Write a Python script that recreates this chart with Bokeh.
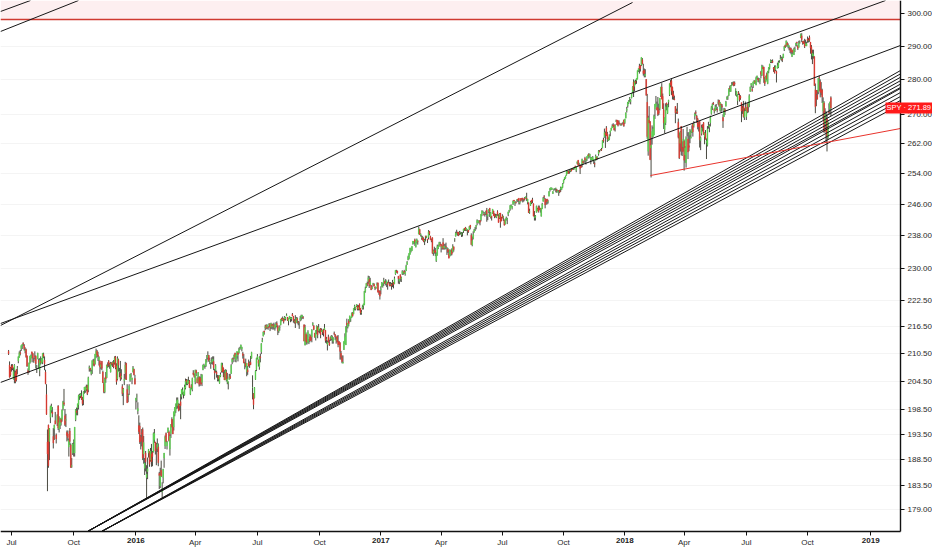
from bokeh.plotting import figure
from bokeh.models import Range1d, FixedTicker, NumeralTickFormatter, Label, BoxAnnotation, ColumnDataSource
from bokeh.embed import file_html
from bokeh.resources import INLINE

# SPY daily bars (open, high, low, close), sessions Jun 26 2015 .. Nov 2 2018
bars_2015 = [
    (211.0, 211.3, 210.2, 210.5), (208.0, 208.8, 205.3, 205.4), (207.4, 207.6, 205.5, 205.85),
    # Jul
    (207.7, 208.2, 206.6, 207.5), (207.9, 208.2, 206.9, 207.3), (205.0, 207.5, 204.9, 206.6), (206.9, 208.2, 204.1, 208.0),
    (206.4, 206.8, 204.1, 204.5), (207.0, 207.1, 204.5, 204.9), (207.3, 207.8, 206.0, 207.3), (208.9, 209.9, 208.4, 209.8),
    (209.7, 211.0, 209.6, 210.7), (210.7, 211.3, 210.1, 210.5), (211.6, 212.3, 211.1, 212.3), (212.3, 212.6, 211.5, 212.5),
    (212.8, 213.0, 212.2, 212.6), (212.3, 212.6, 211.2, 211.6), (211.1, 211.9, 210.6, 211.3), (211.4, 211.6, 209.6, 209.8),
    (210.0, 210.1, 207.6, 207.8), (206.8, 207.3, 205.9, 206.4), (206.9, 208.5, 206.3, 208.5), (208.6, 210.0, 208.3, 210.0),
    (209.5, 210.3, 208.6, 210.1), (210.9, 210.9, 209.5, 210.5),
    # Aug
    (210.5, 210.6, 208.6, 209.5), (209.1, 209.6, 208.5, 209.0), (210.0, 211.0, 209.2, 209.9), (209.9, 210.1, 207.3, 208.3),
    (207.6, 208.0, 206.3, 207.6), (209.3, 210.7, 209.3, 210.6), (209.0, 209.4, 207.2, 208.6), (206.9, 209.5, 205.6, 209.0),
    (208.8, 209.9, 208.1, 208.6), (208.4, 209.5, 208.4, 209.4), (208.7, 210.6, 208.2, 210.6), (210.3, 210.7, 209.5, 209.9),
    (209.1, 209.9, 206.9, 208.3), (206.5, 207.0, 203.9, 204.0), (201.7, 203.9, 197.5, 197.6), (192.0, 194.5, 182.4, 189.6),
    (195.4, 195.5, 186.9, 187.3), (192.1, 194.8, 188.4, 194.7), (197.0, 199.4, 195.8, 199.2), (198.5, 199.8, 197.9, 199.3),
    (198.1, 199.1, 197.0, 197.7),
    # Sep
    (193.1, 194.8, 190.7, 191.8), (194.6, 195.5, 192.4, 195.4), (196.3, 198.1, 195.6, 195.6), (193.4, 193.7, 191.7, 192.6),
    (195.9, 197.6, 195.2, 197.3), (199.3, 199.5, 194.4, 194.8), (194.6, 197.2, 193.9, 195.9), (195.4, 196.8, 194.6, 196.8),
    (196.6, 196.9, 195.3, 196.0), (196.6, 198.6, 196.1, 198.5), (198.8, 200.4, 198.4, 200.2), (200.0, 202.9, 199.3, 199.7),
    (197.3, 198.7, 195.2, 195.5), (196.4, 197.7, 195.0, 196.5), (193.9, 194.3, 192.1, 193.3), (193.6, 194.3, 192.3, 192.9),
    (191.0, 192.7, 189.1, 192.3), (194.2, 194.8, 191.4, 192.1), (191.4, 191.7, 186.9, 187.0), (187.2, 188.8, 186.9, 187.3),
    (189.8, 191.8, 189.4, 191.6),
    # Oct
    (192.1, 192.5, 189.1, 192.1), (189.8, 195.0, 189.1, 195.0), (196.5, 198.7, 196.2, 198.6), (198.3, 199.0, 197.4, 198.0),
    (198.9, 199.8, 197.4, 199.8), (199.6, 201.7, 198.6, 201.5), (201.4, 201.9, 200.6, 201.6), (201.4, 202.0, 201.0, 201.9),
    (201.4, 202.6, 200.6, 200.8), (200.8, 201.2, 199.4, 199.8), (200.7, 202.4, 199.5, 202.3), (202.7, 203.3, 201.9, 203.3),
    (202.5, 203.4, 202.1, 203.3), (202.9, 203.8, 202.4, 203.1), (203.6, 203.8, 201.6, 201.9), (202.8, 205.5, 202.2, 205.3),
    (207.3, 207.9, 206.6, 207.5), (207.3, 207.4, 206.6, 207.0), (206.2, 207.0, 205.8, 206.6), (206.9, 209.0, 206.1, 209.0),
    (208.4, 209.3, 207.9, 208.8), (209.0, 209.4, 207.7, 207.9),
    # Nov
    (208.3, 210.4, 208.1, 210.4), (210.0, 211.6, 209.5, 211.0), (211.0, 211.3, 209.8, 210.2), (210.2, 210.9, 208.9, 209.9),
    (209.1, 209.9, 207.9, 209.7), (208.9, 209.0, 206.1, 207.6), (207.6, 208.4, 207.1, 208.1), (208.8, 208.9, 206.9, 207.3),
    (206.5, 206.8, 204.2, 204.2), (203.9, 204.3, 202.0, 202.3), (202.3, 205.3, 202.0, 205.1), (205.5, 206.5, 204.2, 205.0),
    (205.3, 208.1, 205.2, 208.0), (208.0, 208.6, 207.4, 207.8), (208.8, 209.1, 207.6, 208.3), (208.3, 208.5, 207.2, 208.0),
    (206.5, 208.7, 206.4, 208.3), (208.5, 208.6, 207.9, 208.2), (208.4, 208.8, 207.6, 208.6), (208.6, 209.1, 207.3, 207.6),
    # Dec
    (208.6, 209.9, 208.1, 209.6), (209.8, 210.0, 207.1, 207.4), (207.8, 208.4, 203.8, 204.4), (205.0, 209.9, 204.7, 209.4),
    (209.2, 209.4, 206.6, 208.0), (206.5, 207.4, 205.4, 206.6), (206.2, 208.9, 204.6, 205.1), (205.4, 207.1, 204.9, 205.6),
    (203.4, 203.9, 201.4, 201.9), (202.1, 203.1, 199.5, 202.9), (204.7, 206.1, 203.7, 205.0), (206.4, 208.7, 204.9, 208.0),
    (208.4, 208.5, 204.8, 204.9), (202.8, 203.9, 200.0, 200.0), (201.4, 201.9, 200.1, 201.5), (202.7, 203.9, 201.6, 203.5),
    (204.7, 206.1, 204.4, 206.0), (205.7, 206.3, 205.3, 205.7), (204.9, 205.3, 203.9, 205.2), (206.5, 207.8, 206.4, 207.4),
    (207.1, 207.2, 205.8, 205.9), (205.1, 205.9, 203.9, 203.9),
]

bars_2016 = [
    # Jan
    (200.5, 201.0, 198.6, 201.0), (201.4, 201.9, 200.1, 201.4), (198.3, 200.1, 197.6, 198.8), (195.3, 197.4, 193.6, 194.1),
    (195.2, 195.9, 191.6, 192.0), (193.0, 193.4, 190.5, 192.1), (193.8, 194.6, 191.1, 193.7), (194.5, 194.9, 188.4, 188.8),
    (189.6, 193.2, 187.7, 191.9), (186.8, 188.8, 185.5, 187.8), (189.8, 190.2, 186.2, 188.1), (185.0, 187.4, 181.0, 185.7),
    (186.2, 188.9, 184.7, 186.7), (189.8, 190.6, 188.9, 190.5), (190.1, 190.1, 187.1, 187.6), (188.4, 190.8, 188.1, 190.2),
    (189.6, 191.6, 187.1, 188.1), (189.9, 190.2, 187.2, 189.1), (190.0, 193.9, 189.9, 193.7),
    # Feb
    (192.5, 194.6, 191.8, 193.7), (192.0, 192.0, 189.5, 190.2), (191.4, 191.8, 187.4, 191.3), (190.7, 192.7, 190.0, 191.6),
    (191.0, 191.7, 187.2, 187.9), (185.8, 186.1, 182.8, 185.4), (183.4, 186.9, 183.0, 185.4), (186.4, 188.3, 185.1, 185.3),
    (182.3, 184.1, 181.1, 182.9), (185.0, 186.7, 183.9, 186.6), (188.8, 189.8, 186.9, 189.8), (191.2, 193.3, 190.6, 193.0),
    (193.7, 193.9, 191.9, 192.1), (191.2, 192.2, 190.5, 192.0), (193.9, 194.9, 193.8, 194.8), (194.0, 194.3, 192.1, 192.3),
    (190.6, 193.5, 189.3, 193.2), (193.7, 195.6, 192.8, 195.5), (196.6, 197.0, 194.9, 195.1), (195.1, 196.6, 193.6, 193.6),
    # Mar
    (195.0, 198.2, 194.3, 198.1), (197.6, 199.1, 197.2, 199.0), (198.4, 199.8, 197.9, 199.8), (199.9, 201.1, 198.7, 200.4),
    (199.4, 201.1, 198.8, 200.6), (199.6, 199.9, 198.2, 198.4), (199.4, 199.8, 198.4, 199.4), (200.2, 201.8, 196.6, 199.4),
    (201.3, 202.8, 200.7, 202.8), (202.2, 203.2, 201.7, 202.6), (201.8, 202.3, 200.9, 202.2), (201.6, 203.8, 201.5, 203.3),
    (203.1, 205.1, 202.8, 204.6), (204.8, 205.0, 203.7, 204.4), (204.0, 204.9, 203.7, 204.7), (204.1, 205.5, 204.0, 204.6),
    (204.6, 204.8, 203.1, 203.2), (201.8, 203.2, 201.6, 203.1), (203.6, 203.9, 202.8, 203.2), (202.8, 205.3, 202.4, 205.1),
    (206.3, 206.9, 205.8, 206.0), (205.9, 206.2, 205.3, 205.5),
    # Apr
    (204.4, 207.0, 203.9, 206.9), (206.8, 207.0, 205.6, 206.3), (205.1, 205.4, 204.1, 204.2), (204.3, 206.5, 204.3, 206.4),
    (205.4, 205.6, 203.4, 203.9), (205.0, 205.5, 203.5, 204.5), (205.2, 206.1, 203.9, 203.9), (204.3, 206.0, 203.5, 205.9),
    (207.0, 208.1, 206.9, 208.0), (207.9, 208.3, 207.5, 208.0), (207.8, 208.0, 207.2, 207.8), (207.8, 209.3, 207.6, 209.2),
    (209.9, 210.2, 208.6, 209.9), (209.6, 211.0, 209.2, 210.1), (210.1, 210.2, 208.7, 209.0), (208.9, 209.6, 208.2, 209.0),
    (208.4, 208.6, 207.2, 208.6), (208.8, 209.7, 208.2, 208.9), (208.8, 209.9, 208.1, 209.3), (208.8, 209.9, 206.9, 207.4),
    (206.7, 207.2, 204.9, 206.3),
    # May
    (206.9, 208.2, 206.4, 207.9), (206.5, 206.8, 205.3, 206.1), (205.0, 205.9, 204.5, 205.0), (205.6, 205.8, 204.5, 205.0),
    (204.1, 205.8, 204.0, 205.7), (205.6, 206.4, 205.4, 205.9), (206.7, 208.5, 206.4, 208.4), (207.9, 208.5, 206.4, 206.5),
    (207.3, 207.5, 205.4, 206.6), (206.2, 206.9, 204.8, 204.8), (204.9, 207.1, 204.9, 206.8), (206.5, 207.0, 204.5, 204.9),
    (204.4, 206.3, 203.9, 205.0), (204.1, 204.5, 202.8, 204.3), (204.9, 206.1, 204.9, 205.5), (205.6, 206.1, 205.0, 205.2),
    (206.2, 208.2, 206.1, 207.9), (208.7, 209.5, 208.2, 209.3), (209.4, 209.7, 208.6, 209.3), (209.6, 210.3, 209.4, 210.2),
    (210.6, 210.7, 208.7, 209.8),
    # Jun
    (209.1, 210.5, 208.6, 210.3), (210.0, 211.0, 209.4, 211.0), (210.7, 210.9, 208.8, 210.3), (210.7, 211.8, 210.5, 211.4),
    (211.5, 212.0, 211.3, 211.6), (211.9, 212.5, 211.6, 212.4), (211.5, 212.0, 211.0, 211.9), (210.5, 210.9, 209.4, 210.1),
    (209.4, 210.4, 208.4, 208.5), (208.0, 208.7, 207.1, 208.1), (208.4, 209.4, 207.5, 207.8), (206.6, 208.4, 205.6, 208.4),
    (207.0, 207.8, 205.9, 206.5), (208.5, 209.2, 207.7, 207.8), (208.4, 208.8, 207.4, 208.4), (208.6, 210.0, 208.0, 208.1),
    (209.5, 210.9, 209.4, 210.8), (203.2, 205.8, 200.7, 203.2), (201.9, 202.0, 198.65, 199.6), (201.0, 203.3, 200.9, 203.2),
    (204.9, 206.9, 204.8, 206.7), (207.0, 209.6, 206.7, 209.5),
    # Jul
    (209.5, 210.4, 209.2, 209.9), (209.0, 209.2, 207.7, 208.4), (207.6, 209.9, 207.0, 209.7), (209.8, 210.5, 208.6, 209.6),
    (210.9, 212.8, 210.4, 212.7), (213.2, 214.0, 213.0, 213.4), (214.4, 215.4, 214.3, 215.3), (215.5, 215.6, 214.7, 215.3),
    (216.2, 216.9, 215.7, 216.5), (216.8, 217.0, 215.9, 216.2), (216.3, 217.0, 216.0, 216.8), (216.3, 216.6, 215.8, 216.2),
    (216.8, 217.3, 216.4, 217.1), (217.1, 217.2, 215.5, 216.3), (216.4, 217.4, 215.9, 217.2), (217.0, 217.1, 216.0, 216.6),
    (216.5, 217.2, 215.8, 216.7), (216.8, 217.4, 215.9, 216.5), (216.2, 217.0, 215.6, 216.8), (216.7, 217.5, 216.1, 217.1),
    # Aug
    (217.2, 217.7, 216.4, 216.9), (216.7, 216.8, 214.6, 215.6), (215.5, 216.3, 215.1, 216.2), (216.3, 216.8, 215.6, 216.4),
    (216.9, 218.2, 216.8, 218.2), (218.4, 218.5, 217.7, 218.1), (218.1, 218.8, 217.8, 218.2), (218.3, 218.4, 217.2, 217.6),
    (218.3, 218.9, 217.9, 218.6), (218.3, 218.7, 217.9, 218.5), (218.9, 219.5, 218.9, 219.1), (218.6, 218.7, 217.8, 217.9),
    (217.8, 218.5, 216.8, 218.4), (218.3, 218.9, 218.2, 218.9), (218.3, 218.7, 217.5, 218.5), (218.3, 218.7, 217.7, 218.5),
    (219.3, 219.6, 218.9, 218.9), (218.8, 218.9, 217.4, 217.9), (217.7, 218.2, 217.2, 217.7), (217.9, 219.1, 216.2, 217.3),
    (217.4, 218.7, 217.4, 218.4), (218.3, 218.6, 217.2, 218.0), (217.6, 217.8, 216.8, 217.4),
    # Sep
    (217.4, 217.7, 216.0, 217.4), (218.0, 218.9, 217.7, 218.4), (218.6, 219.2, 217.9, 219.0), (218.8, 219.2, 218.3, 219.0),
    (218.6, 218.9, 218.2, 218.5), (216.9, 217.0, 213.2, 213.3), (212.4, 216.9, 212.3, 216.3), (214.8, 215.2, 212.5, 213.2),
    (213.3, 214.7, 212.5, 213.0), (212.9, 215.7, 212.8, 215.3), (213.4, 213.7, 212.6, 213.4), (214.2, 214.9, 213.0, 213.4),
    (214.4, 214.6, 213.4, 213.4), (214.2, 215.9, 213.0, 215.8), (217.0, 217.5, 216.7, 217.2), (216.7, 216.8, 215.7, 215.9),
    (215.0, 215.1, 214.0, 214.2), (214.1, 215.7, 213.4, 215.6), (215.8, 216.8, 214.8, 216.6), (216.4, 216.6, 213.9, 214.7),
    (215.6, 217.1, 215.2, 216.3),
    # Oct
    (215.8, 216.0, 215.0, 215.8), (216.0, 216.2, 213.9, 214.7), (215.4, 216.1, 215.3, 215.6), (215.4, 215.8, 214.6, 215.7),
    (215.8, 216.0, 214.3, 215.0), (215.8, 217.1, 215.7, 216.2), (215.7, 215.7, 212.9, 213.4), (213.6, 214.2, 212.7, 213.7),
    (212.5, 213.4, 211.2, 213.0), (214.2, 214.7, 212.9, 213.1), (212.9, 213.6, 212.2, 212.4), (214.0, 214.3, 213.3, 213.7),
    (213.8, 214.6, 213.4, 214.3), (214.0, 214.5, 212.7, 214.0), (213.2, 214.1, 212.7, 214.0), (215.0, 215.4, 214.6, 214.9),
    (214.7, 214.8, 213.5, 214.2), (213.4, 214.2, 212.7, 213.7), (214.3, 214.5, 213.0, 213.2), (213.2, 214.6, 211.9, 212.5),
    (213.1, 213.3, 212.4, 212.6),
    # Nov
    (212.9, 213.0, 209.2, 211.0), (210.6, 211.1, 209.2, 209.7), (209.6, 210.1, 208.4, 208.8), (208.4, 210.1, 208.4, 208.6),
    (211.4, 213.2, 211.3, 213.2), (212.8, 215.0, 212.7, 214.2), (212.4, 216.6, 212.4, 216.4), (217.3, 218.3, 215.2, 216.9),
    (216.4, 217.3, 216.1, 217.3), (217.8, 218.2, 216.6, 217.2), (217.7, 219.0, 217.5, 218.9), (218.4, 218.6, 217.6, 218.6),
    (218.6, 219.7, 218.5, 219.6), (219.6, 219.8, 218.8, 218.9), (219.4, 220.7, 219.3, 220.7), (221.0, 221.5, 220.2, 221.2),
    (220.5, 221.0, 220.2, 221.0), (221.2, 221.6, 221.0, 221.5), (221.2, 221.5, 220.2, 220.5), (220.5, 221.4, 220.2, 220.9),
    (221.6, 221.8, 220.2, 220.4),
    # Dec
    (220.7, 220.7, 219.2, 219.6), (219.7, 220.3, 219.2, 219.7), (220.7, 221.4, 220.4, 221.0), (221.2, 221.7, 220.4, 221.7),
    (221.5, 224.7, 221.4, 224.6), (224.6, 225.7, 224.3, 225.2), (225.5, 226.5, 225.4, 226.5), (226.4, 226.9, 225.8, 226.3),
    (227.0, 228.3, 226.4, 227.8), (227.4, 228.2, 225.4, 225.9), (226.2, 227.8, 225.9, 226.8), (226.0, 226.0, 224.9, 225.0),
    (225.3, 226.0, 225.1, 225.5), (226.2, 226.6, 226.0, 226.4), (226.3, 226.5, 225.8, 225.8), (225.6, 225.7, 224.9, 225.4),
    (225.4, 225.7, 225.2, 225.7), (226.0, 226.7, 226.0, 226.3), (226.6, 226.6, 224.4, 224.4), (224.5, 224.9, 223.8, 224.4),
    (224.7, 224.8, 222.7, 223.5),
]

bars_2017 = [
    # Jan
    (225.0, 225.8, 223.9, 225.2), (225.6, 226.8, 225.6, 226.6), (226.3, 226.6, 225.5, 226.4), (226.5, 227.8, 225.9, 227.2),
    (226.9, 227.1, 226.4, 226.5), (226.5, 227.5, 226.0, 226.5), (226.4, 227.1, 225.6, 227.1), (226.5, 226.8, 225.0, 226.2),
    (226.7, 227.4, 226.5, 226.6), (226.3, 226.8, 225.8, 225.9), (226.2, 226.8, 225.8, 226.3), (226.3, 226.6, 225.0, 225.9),
    (226.7, 227.3, 225.6, 226.7), (226.7, 226.8, 225.3, 226.2), (226.4, 228.1, 226.3, 227.6), (228.7, 229.6, 228.5, 229.6),
    (229.4, 229.7, 229.0, 229.3), (229.4, 229.5, 228.8, 229.0), (228.2, 228.2, 226.4, 227.6), (227.0, 227.6, 226.3, 227.5),
    # Feb
    (228.5, 228.6, 226.9, 227.6), (227.6, 228.1, 226.8, 227.8), (228.8, 229.6, 228.5, 229.3), (228.9, 229.3, 228.5, 229.0),
    (229.4, 229.7, 228.7, 229.0), (228.7, 229.4, 228.3, 229.2), (229.5, 230.9, 229.4, 230.6), (231.0, 231.8, 230.9, 231.5),
    (232.1, 233.1, 232.0, 232.8), (232.6, 233.7, 232.2, 233.7), (233.4, 235.0, 233.4, 235.0), (234.9, 235.0, 233.9, 234.9),
    (234.3, 235.4, 234.3, 235.4), (236.0, 236.7, 235.8, 236.7), (236.4, 236.7, 236.0, 236.5), (237.0, 237.3, 235.5, 236.4),
    (235.3, 236.8, 235.1, 236.7), (236.4, 237.3, 236.1, 237.1), (236.6, 236.9, 235.8, 236.5),
    # Mar
    (238.4, 240.3, 238.4, 239.8), (239.6, 239.6, 238.2, 238.3), (238.2, 238.6, 237.8, 238.4), (237.5, 238.1, 237.0, 237.7),
    (237.5, 237.9, 236.8, 237.0), (237.3, 237.6, 236.4, 236.6), (236.7, 237.2, 235.7, 236.9), (237.9, 238.0, 236.6, 237.7),
    (237.6, 238.0, 237.4, 237.8), (237.2, 237.2, 236.2, 237.0), (237.6, 239.4, 237.1, 239.0), (239.1, 239.2, 238.1, 238.5),
    (237.8, 238.0, 237.0, 237.0), (236.9, 237.3, 236.4, 236.8), (237.5, 237.6, 233.6, 233.7), (233.8, 234.6, 233.1, 234.3),
    (234.2, 235.3, 233.6, 234.0), (234.4, 235.0, 233.0, 233.9), (231.9, 233.9, 231.6, 233.6), (233.3, 235.8, 233.1, 235.3),
    (235.0, 235.8, 234.7, 235.5), (235.5, 236.5, 235.3, 236.3), (235.9, 236.5, 235.7, 235.7),
    # Apr
    (235.8, 236.0, 233.9, 235.3), (235.0, 235.6, 234.6, 235.4), (236.3, 237.4, 234.6, 234.8), (235.0, 236.0, 234.6, 235.4),
    (235.2, 236.0, 234.6, 235.2), (235.4, 236.3, 234.7, 235.3), (234.9, 235.2, 233.3, 235.0), (234.7, 235.0, 233.8, 234.0),
    (233.6, 234.5, 232.5, 232.5), (233.1, 234.6, 232.9, 234.6), (233.7, 234.5, 233.1, 233.9), (234.5, 234.9, 233.2, 233.5),
    (234.1, 235.9, 233.8, 235.3), (235.3, 235.3, 234.1, 234.6), (237.2, 237.4, 236.5, 237.2), (237.9, 239.0, 237.8, 238.6),
    (238.5, 239.5, 238.3, 238.6), (238.8, 239.0, 238.0, 238.6), (238.9, 238.9, 237.9, 238.1),
    # May
    (238.7, 239.2, 238.2, 238.7), (238.8, 239.0, 238.3, 238.8), (238.3, 238.9, 237.7, 238.5), (238.8, 238.9, 237.8, 238.8),
    (239.2, 239.7, 238.7, 239.7), (239.8, 239.9, 239.2, 239.7), (240.0, 240.2, 239.2, 239.4), (239.4, 239.9, 239.2, 239.9),
    (239.4, 239.6, 238.1, 239.4), (239.4, 239.4, 238.7, 239.0), (239.5, 240.4, 239.4, 240.3), (240.6, 240.7, 239.6, 240.1),
    (238.1, 238.6, 235.8, 235.8), (235.7, 237.8, 235.4, 236.8), (237.3, 239.1, 237.1, 238.3), (238.9, 239.7, 238.8, 239.5),
    (240.0, 240.2, 239.2, 240.0), (240.3, 240.7, 239.6, 240.6), (241.2, 242.1, 240.6, 241.8), (241.5, 241.9, 241.2, 241.7),
    (241.3, 241.8, 241.0, 241.5), (241.8, 241.9, 240.6, 241.4),
    # Jun
    (242.0, 243.4, 241.6, 243.4), (243.4, 244.4, 242.9, 244.2), (244.0, 244.3, 243.8, 244.0), (243.3, 244.0, 243.1, 243.2),
    (243.6, 243.9, 242.8, 243.7), (243.8, 244.3, 243.2, 243.8), (244.4, 245.0, 241.5, 243.4), (242.9, 243.4, 241.9, 243.4),
    (244.0, 244.6, 243.6, 244.6), (244.9, 245.0, 242.7, 244.2), (242.7, 244.0, 242.3, 243.8), (242.8, 243.0, 241.8, 242.6),
    (243.6, 244.7, 243.5, 244.7), (244.2, 244.3, 243.0, 243.0), (243.4, 243.6, 242.4, 242.9), (242.9, 243.5, 242.6, 242.8),
    (242.6, 243.4, 242.4, 243.1), (244.0, 244.4, 243.0, 243.3), (243.0, 243.4, 241.3, 241.3), (242.5, 243.7, 242.2, 243.5),
    (243.7, 243.7, 240.0, 241.4), (242.3, 242.7, 241.6, 241.8),
    # Jul
    (242.9, 243.4, 242.4, 242.4), (242.6, 243.0, 241.7, 242.8), (241.9, 242.0, 240.6, 240.6), (240.9, 242.3, 240.8, 242.1),
    (242.1, 242.8, 241.8, 242.4), (242.1, 242.5, 240.9, 242.2), (243.4, 244.0, 242.9, 244.0), (244.2, 244.5, 243.8, 244.4),
    (244.7, 245.7, 244.3, 245.6), (245.5, 245.9, 245.3, 245.5), (245.0, 245.5, 244.6, 245.5), (245.9, 246.9, 245.8, 246.8),
    (247.0, 247.0, 246.2, 246.8), (246.3, 246.6, 245.5, 246.6), (246.5, 246.7, 246.1, 246.4), (247.0, 247.2, 246.6, 247.1),
    (247.3, 247.3, 246.5, 247.1), (247.5, 247.5, 245.9, 246.9), (246.3, 246.7, 245.9, 246.6), (247.4, 247.5, 246.6, 246.8),
    # Aug
    (247.5, 247.5, 246.9, 247.3), (247.5, 247.6, 246.4, 247.4), (247.3, 247.3, 246.6, 247.0), (247.5, 247.8, 246.9, 247.4),
    (247.5, 247.9, 247.4, 247.9), (247.5, 248.9, 246.8, 247.3), (246.5, 247.3, 245.9, 247.3), (246.3, 246.4, 243.7, 243.8),
    (243.9, 244.8, 243.5, 244.1), (245.6, 246.8, 245.5, 246.5), (247.0, 247.0, 246.0, 246.4), (247.1, 247.6, 246.2, 246.9),
    (246.1, 246.1, 242.9, 242.9), (242.6, 244.2, 241.8, 242.7), (242.6, 243.2, 241.8, 243.0), (243.9, 245.6, 243.8, 245.4),
    (244.3, 245.0, 244.2, 244.6), (245.3, 245.6, 243.8, 244.1), (244.9, 245.6, 244.4, 244.6), (244.9, 245.0, 243.8, 244.6),
    (242.9, 245.0, 242.8, 244.9), (244.8, 246.3, 244.7, 246.0), (246.7, 247.8, 246.6, 247.5),
    # Sep
    (247.9, 248.3, 247.3, 247.8), (247.3, 247.5, 244.9, 245.8), (246.8, 247.3, 245.8, 246.6), (247.3, 247.3, 245.9, 246.6),
    (246.5, 247.1, 246.1, 246.6), (248.0, 249.3, 248.0, 249.2), (249.7, 250.1, 249.2, 250.1), (249.9, 250.3, 249.6, 250.2),
    (249.7, 250.2, 249.6, 250.1), (248.7, 249.3, 248.6, 249.2), (249.6, 250.0, 249.4, 249.6), (250.0, 250.1, 249.6, 250.0),
    (250.1, 250.2, 249.0, 250.1), (249.7, 249.9, 248.9, 249.4), (249.1, 249.6, 249.0, 249.4), (248.9, 249.6, 248.1, 248.9),
    (249.5, 249.7, 248.8, 249.1), (249.9, 250.5, 249.1, 250.1), (249.7, 250.4, 249.6, 250.4), (250.3, 251.4, 250.1, 251.2),
    # Oct
    (251.5, 252.3, 251.3, 252.3), (252.5, 252.9, 252.2, 252.9), (252.7, 253.4, 252.6, 253.2), (253.5, 254.7, 253.4, 254.7),
    (254.1, 254.7, 253.9, 254.4), (254.6, 254.7, 253.9, 254.0), (254.6, 254.9, 253.9, 254.6), (254.6, 255.0, 254.3, 255.0),
    (254.9, 255.2, 254.5, 254.6), (255.1, 255.3, 254.9, 255.0), (255.2, 255.5, 254.9, 255.3), (255.2, 255.5, 255.0, 255.5),
    (255.9, 256.0, 255.5, 255.7), (254.8, 255.8, 254.3, 255.8), (256.7, 257.1, 256.4, 257.1), (257.5, 257.5, 256.0, 256.1),
    (256.6, 256.8, 256.1, 256.6), (256.2, 256.3, 253.8, 255.3), (256.0, 256.3, 255.5, 255.6), (256.5, 257.9, 255.6, 257.7),
    (257.2, 257.4, 256.3, 256.8), (257.2, 257.4, 256.8, 257.2),
    # Nov
    (258.0, 258.4, 256.8, 257.5), (257.4, 257.8, 256.3, 257.6), (257.8, 258.5, 257.3, 258.5), (258.3, 259.0, 258.2, 258.9),
    (259.0, 259.4, 257.9, 258.7), (258.5, 259.2, 258.2, 259.1), (257.7, 258.4, 256.4, 258.2), (257.7, 258.3, 257.4, 258.1),
    (257.3, 258.6, 257.3, 258.3), (257.4, 257.8, 256.5, 257.7), (256.6, 257.2, 255.6, 256.4), (257.5, 259.0, 257.4, 258.6),
    (258.2, 258.5, 257.5, 257.9), (258.1, 258.5, 257.7, 258.3), (259.2, 260.2, 258.7, 260.0), (260.0, 260.2, 259.6, 259.8),
    (260.3, 260.5, 260.1, 260.4), (260.4, 260.8, 260.0, 260.2), (260.8, 262.9, 260.7, 262.9), (263.0, 263.6, 262.2, 262.7),
    (263.8, 266.1, 263.6, 265.0),
    # Dec
    (264.8, 265.3, 260.8, 264.5), (266.3, 266.8, 264.1, 264.1), (264.6, 265.2, 262.4, 263.2), (262.8, 263.7, 262.7, 263.2),
    (263.2, 264.5, 262.9, 264.1), (265.1, 265.5, 264.0, 265.5), (265.6, 266.3, 265.6, 266.3), (266.3, 267.3, 266.3, 266.8),
    (267.1, 267.6, 266.5, 266.8), (267.1, 267.2, 265.6, 265.7), (266.3, 267.3, 265.3, 267.0), (268.1, 268.6, 268.0, 268.2),
    (268.5, 268.5, 267.1, 267.2), (268.3, 268.3, 266.7, 267.0), (267.7, 268.4, 267.3, 267.6), (267.6, 267.6, 267.0, 267.5),
    (267.1, 267.4, 266.9, 267.2), (267.4, 267.7, 267.0, 267.3), (267.9, 267.9, 267.4, 267.9), (268.5, 268.6, 266.6, 266.9),
]

bars_2018 = [
    # Jan
    (267.8, 268.8, 267.4, 268.8), (269.0, 270.6, 269.0, 270.5), (271.2, 272.2, 270.6, 271.6), (272.5, 273.6, 272.0, 273.4),
    (273.3, 274.1, 273.0, 273.9), (274.4, 275.0, 273.6, 274.5), (273.7, 274.4, 272.9, 274.1), (274.8, 276.1, 274.6, 276.1),
    (276.4, 278.1, 276.1, 277.9), (279.3, 280.1, 275.0, 277.0), (278.1, 279.7, 276.6, 279.6), (279.5, 280.0, 278.6, 279.1),
    (279.8, 280.4, 278.8, 280.4), (280.2, 282.7, 280.1, 282.7), (282.7, 283.3, 282.3, 283.3), (284.0, 284.7, 281.8, 283.2),
    (284.2, 284.3, 282.4, 283.3), (284.3, 286.6, 284.0, 286.6), (285.9, 286.4, 284.5, 284.7), (282.6, 284.7, 281.2, 281.8),
    (282.7, 283.3, 280.7, 281.9),
    # Feb
    (281.1, 283.1, 280.7, 281.6), (280.1, 280.2, 275.4, 275.5), (273.5, 275.9, 263.3, 263.9), (259.9, 269.7, 258.7, 269.1),
    (268.5, 272.4, 267.6, 267.7), (268.0, 268.2, 257.6, 257.6), (260.8, 263.6, 252.9, 261.5), (263.8, 267.0, 261.7, 265.3),
    (264.0, 266.6, 263.7, 266.0), (264.3, 270.0, 264.3, 269.6), (271.6, 273.0, 268.8, 273.0), (272.3, 275.3, 272.3, 273.1),
    (272.0, 273.7, 271.2, 271.4), (271.9, 275.0, 269.6, 270.1), (271.1, 273.1, 269.9, 270.4), (271.8, 274.7, 271.2, 274.7),
    (275.5, 277.9, 275.0, 277.9), (277.9, 279.0, 274.4, 274.4), (275.2, 276.0, 271.6, 271.7),
    # Mar
    (271.4, 273.2, 266.0, 267.7), (265.8, 269.2, 264.8, 269.1), (267.7, 273.2, 267.1, 272.2), (273.3, 273.4, 271.2, 272.9),
    (270.4, 273.0, 270.2, 272.8), (273.6, 274.2, 272.1, 274.1), (275.7, 278.9, 275.3, 278.9), (279.2, 279.9, 277.8, 278.5),
    (279.7, 280.4, 275.6, 276.7), (277.8, 278.0, 274.3, 275.3), (275.9, 276.8, 274.2, 275.0), (274.5, 275.4, 274.1, 274.2),
    (272.3, 272.4, 267.6, 270.5), (270.9, 271.7, 270.2, 271.0), (270.9, 273.3, 270.2, 270.4), (267.9, 268.9, 263.4, 263.7),
    (264.2, 265.0, 257.8, 258.1), (262.1, 265.4, 259.8, 265.1), (266.7, 266.8, 258.8, 260.6), (260.8, 262.6, 258.6, 259.8),
    (261.1, 266.0, 259.8, 263.2),
    # Apr
    (262.6, 263.1, 254.7, 257.5), (258.9, 261.3, 256.8, 260.8), (256.8, 264.0, 255.5, 263.6), (265.6, 266.6, 264.0, 265.6),
    (263.2, 265.1, 257.8, 259.7), (261.4, 265.1, 259.9, 261.0), (264.3, 266.0, 262.1, 265.2), (263.5, 265.6, 263.4, 263.8),
    (265.1, 267.0, 264.9, 265.9), (267.4, 267.5, 263.9, 265.2), (267.0, 268.2, 266.4, 267.3), (269.6, 270.6, 268.6, 270.2),
    (270.6, 271.2, 269.8, 270.4), (269.6, 269.9, 267.7, 268.9), (268.8, 269.1, 265.9, 266.6), (267.3, 267.9, 265.3, 266.6),
    (268.1, 268.2, 260.9, 263.0), (262.8, 263.9, 260.2, 263.6), (264.8, 267.2, 264.2, 266.3), (267.0, 267.3, 265.3, 266.6),
    (267.8, 267.9, 264.4, 264.5),
    # May
    (263.9, 265.1, 261.8, 265.0), (264.8, 265.7, 263.1, 263.2), (262.3, 263.4, 257.8, 262.6), (261.5, 266.8, 261.2, 266.0),
    (266.9, 268.0, 266.1, 266.9), (266.5, 267.3, 265.1, 266.9), (267.7, 269.7, 266.7, 269.5), (270.3, 272.4, 270.0, 272.0),
    (272.1, 273.2, 271.3, 272.9), (273.3, 273.6, 272.7, 273.0), (271.6, 271.8, 270.3, 271.1), (271.1, 272.8, 271.0, 272.2),
    (271.9, 273.0, 271.3, 272.0), (271.5, 272.2, 270.6, 271.3), (273.3, 274.3, 272.8, 273.4), (274.0, 274.2, 272.2, 272.6),
    (271.2, 273.6, 270.9, 273.4), (273.0, 273.1, 270.6, 272.8), (272.5, 273.0, 271.1, 272.2), (269.2, 270.1, 266.3, 268.2),
    (269.4, 271.9, 269.4, 271.6), (271.4, 271.8, 269.9, 270.9),
    # Jun
    (272.4, 273.9, 272.3, 273.6), (274.5, 275.2, 274.2, 274.9), (275.0, 275.4, 274.2, 275.1), (275.5, 277.5, 275.3, 277.4),
    (277.6, 278.3, 276.5, 277.4), (276.6, 278.4, 276.5, 278.2), (278.4, 279.3, 278.2, 278.6), (279.1, 279.4, 278.4, 279.1),
    (279.2, 279.5, 278.1, 278.3), (279.1, 279.5, 278.2, 278.7), (276.9, 277.5, 275.4, 277.1), (275.6, 276.7, 275.1, 276.6),
    (274.0, 275.8, 272.7, 275.5), (276.3, 276.7, 275.6, 276.0), (275.5, 276.0, 273.7, 274.2), (275.2, 275.5, 274.2, 274.7),
    (273.4, 273.4, 267.9, 271.0), (271.6, 272.6, 270.2, 271.6), (272.3, 273.9, 269.2, 269.4), (269.3, 271.8, 268.5, 270.9),
    (272.1, 273.7, 271.0, 271.3),
    # Jul
    (269.5, 272.0, 268.5, 271.9), (273.0, 273.2, 270.4, 270.9), (272.2, 273.2, 270.6, 273.1), (273.1, 275.8, 272.1, 275.4),
    (276.6, 278.0, 276.5, 277.9), (278.4, 279.0, 277.8, 278.9), (277.2, 278.0, 276.5, 276.9), (278.3, 279.4, 277.6, 279.4),
    (279.2, 279.9, 278.8, 279.6), (279.6, 279.8, 278.8, 279.3), (278.5, 280.9, 278.4, 280.5), (280.6, 281.2, 280.1, 281.1),
    (280.3, 280.7, 279.3, 280.0), (279.8, 280.5, 279.2, 279.7), (279.5, 280.4, 278.7, 280.2), (282.2, 282.6, 280.4, 281.6),
    (281.3, 284.4, 281.1, 284.0), (283.6, 284.2, 283.1, 283.3), (283.7, 283.8, 279.1, 280.4), (280.3, 280.8, 278.2, 278.9),
    (279.5, 281.2, 279.3, 280.9),
    # Aug
    (281.6, 282.1, 279.8, 280.3), (278.9, 282.6, 278.7, 282.4), (282.5, 283.7, 281.9, 283.6), (283.6, 284.7, 283.0, 284.6),
    (285.4, 286.0, 284.9, 285.6), (285.4, 285.8, 284.9, 285.5), (285.5, 286.0, 284.9, 285.1), (283.5, 283.7, 282.3, 283.2),
    (283.5, 284.2, 281.8, 282.1), (282.9, 284.2, 282.5, 283.9), (282.4, 282.7, 279.2, 281.8), (283.4, 285.0, 283.3, 284.1),
    (283.8, 285.6, 283.4, 285.1), (285.6, 285.8, 285.0, 285.7), (286.2, 287.3, 286.0, 286.3), (286.1, 286.8, 285.6, 286.2),
    (286.0, 286.8, 285.2, 285.8), (286.4, 287.7, 286.4, 287.5), (289.0, 290.0, 288.5, 289.8), (290.3, 290.4, 289.4, 289.9),
    (290.2, 291.7, 289.8, 291.5), (290.9, 291.3, 289.9, 290.3), (289.8, 290.8, 289.3, 290.3),
    # Sep
    (289.8, 290.2, 288.7, 289.8), (289.4, 289.6, 287.9, 289.0), (289.2, 289.5, 287.5, 288.2), (286.9, 288.7, 286.7, 287.6),
    (288.7, 289.0, 287.6, 288.1), (287.4, 289.5, 287.3, 289.1), (289.0, 289.8, 288.2, 289.1), (290.3, 291.0, 289.9, 290.8),
    (291.1, 291.3, 289.9, 290.9), (290.0, 290.2, 288.8, 289.3), (289.6, 291.6, 289.5, 290.9), (291.2, 291.7, 290.7, 291.2),
    (292.6, 293.8, 292.4, 293.6), (293.1, 293.9, 291.2, 292.0), (291.3, 291.5, 290.4, 291.0), (291.5, 291.6, 290.6, 290.8),
    (290.9, 292.2, 289.4, 289.9), (290.4, 291.9, 290.1, 290.7), (290.0, 291.3, 290.0, 290.7),
    # Oct
    (292.1, 292.9, 291.0, 291.7), (291.6, 292.4, 291.1, 291.6), (292.7, 293.2, 291.3, 291.7), (291.2, 291.2, 287.7, 289.4),
    (289.7, 290.3, 286.0, 287.8), (287.1, 288.9, 284.6, 287.8), (287.0, 288.9, 286.2, 287.4), (286.8, 286.9, 278.2, 278.3),
    (277.1, 278.9, 270.4, 272.2), (276.8, 277.0, 272.4, 276.0), (275.6, 277.0, 274.3, 274.4), (276.6, 280.5, 275.8, 280.4),
    (280.6, 281.2, 276.8, 280.5), (279.4, 280.1, 274.9, 276.4), (277.1, 279.3, 275.5, 276.3), (277.0, 277.4, 273.3, 275.0),
    (271.0, 274.9, 268.6, 273.6), (273.3, 273.8, 264.9, 265.3), (267.4, 271.8, 266.2, 270.1), (265.9, 271.0, 262.3, 265.3),
    (268.8, 270.3, 259.85, 263.9), (263.7, 268.1, 263.1, 267.8), (270.7, 273.2, 270.0, 270.6),
    # Nov
    (271.6, 273.7, 270.4, 273.5), (274.8, 275.2, 269.6, 271.89),
]
first_bar_index = -3          # Jun 26 2015 is three sessions before Jul 1 2015 (index 0)

# time axis (session index of the first session of each quarter)
x_tick_pos = [0, 64, 128, 189, 253, 317, 380, 442, 505, 568, 631, 692, 756, 819, 884]
x_tick_text = ["Jul", "Oct", "2016", "Apr", "Jul", "Oct", "2017", "Apr", "Jul", "Oct", "2018", "Apr", "Jul", "Oct", "2019"]
year_labels = ["2016", "2017", "2018", "2019"]
# price axis
y_tick_values = [179.0, 183.5, 188.5, 193.5, 198.5, 204.5, 210.5, 216.5, 222.5, 230.0, 238.0, 246.0, 254.0,
                 262.0, 270.0, 280.0, 290.0, 300.0]
last_price = 271.89
resistance_price = 298.13

# drawn trend lines: (session index, price) -> (session index, price)
black_x0 = [-11.3, -11.3, -11.3, -11.3, -11.3]
black_p0 = [300.63, 294.43, 216.76, 217.21, 204.27]
black_x1 = [19.5, 68.9, 638.9, 899.2, 914.6]
black_p1 = [304.09, 304.09, 303.46, 304.09, 290.17]
fan_a_start = (78.2, 174.90)
fan_a_end_prices = [282.70, 281.71, 280.71, 279.72, 278.73, 277.75]
fan_b_start = (92.6, 174.90)
fan_b_end_prices = [277.46, 276.30, 275.15, 274.01, 272.87]
fan_end_index = 914.6
red_x0, red_p0, red_x1, red_p1 = 657.4, 253.42, 914.6, 266.13

# ---------------------------------------------------------------
# visible window: the price scale sits at session 914.6, the time scale at price 174.9
AXIS_X, AXIS_P = 914.61, 174.90
X0, X1 = -11.317, 947.53
Y0, Y1 = 171.47, 304.09
FW, FH = 932, 550

bars = bars_2015 + bars_2016 + bars_2017 + bars_2018
xs = [first_bar_index + i for i in range(len(bars))]
o = [b[0] for b in bars]
h = [b[1] for b in bars]
l = [b[2] for b in bars]
c = [b[3] for b in bars]
UP, DOWN, WICK = "#5cdc50", "#e8392f", "#4a4a40"
cols = [UP if cc >= oo else DOWN for oo, cc in zip(o, c)]
tops = [max(oo, cc) for oo, cc in zip(o, c)]
bots = [min(oo, cc) for oo, cc in zip(o, c)]
src = ColumnDataSource(dict(x=xs, o=o, h=h, l=l, c=c, col=cols, top=tops, bot=bots))

p = figure(frame_width=FW, frame_height=FH, y_axis_type="log", y_axis_location="right",
           x_range=Range1d(X0, X1), y_range=Range1d(Y0, Y1),
           output_backend="svg", toolbar_location=None,
           min_border_left=0, min_border_top=0, min_border_right=0, min_border_bottom=0)
p.outline_line_color = None
p.background_fill_color = "white"
p.border_fill_color = "white"

# resistance zone
p.add_layout(BoxAnnotation(bottom=resistance_price, right=AXIS_X, fill_color="#fdeff0", fill_alpha=1.0,
                           line_color=None, level="underlay"))
p.segment(x0=[X0], y0=[resistance_price], x1=[AXIS_X], y1=[resistance_price], line_color="#cf3a30", line_width=1.3)

# candles
p.segment(x0="x", y0="l", x1="x", y1="h", source=src, line_color=WICK, line_width=1)
p.vbar(x="x", width=0.75, top="top", bottom="bot", source=src, fill_color="col", line_color="col", line_width=0.5)

# trend lines
p.segment(x0=black_x0, y0=black_p0, x1=black_x1, y1=black_p1, line_color="#161616", line_width=1)
fx0 = [fan_a_start[0]] * len(fan_a_end_prices) + [fan_b_start[0]] * len(fan_b_end_prices)
fy0 = [fan_a_start[1]] * len(fan_a_end_prices) + [fan_b_start[1]] * len(fan_b_end_prices)
fx1 = [fan_end_index] * (len(fan_a_end_prices) + len(fan_b_end_prices))
fy1 = fan_a_end_prices + fan_b_end_prices
p.segment(x0=fx0, y0=fy0, x1=fx1, y1=fy1, line_color="#161616", line_width=1)
p.segment(x0=[red_x0], y0=[red_p0], x1=[red_x1], y1=[red_p1], line_color="#e8332c", line_width=1)

# axes (fixed at the edge of the chart area)
FONT = "Liberation Sans"
p.yaxis.ticker = FixedTicker(ticks=y_tick_values)
p.yaxis.formatter = NumeralTickFormatter(format="0.00")
p.yaxis.fixed_location = AXIS_X
p.yaxis.bounds = (AXIS_P, Y1)
p.ygrid.ticker = FixedTicker(ticks=y_tick_values)
p.xaxis.ticker = FixedTicker(ticks=x_tick_pos)
p.xaxis.fixed_location = AXIS_P
p.xaxis.bounds = (X0, AXIS_X)
p.xaxis.major_label_overrides = {pos: ("" if txt in year_labels else txt) for pos, txt in zip(x_tick_pos, x_tick_text)}
for ax in (p.xaxis[0], p.yaxis[0]):
    ax.axis_line_color = "#111111"
    ax.axis_line_width = 1.4
    ax.major_tick_line_color = "#111111"
    ax.major_tick_out = 4
    ax.major_tick_in = 0
    ax.minor_tick_line_color = None
    ax.major_label_text_font = FONT
    ax.major_label_text_font_size = "8px"
    ax.major_label_text_color = "#2a2a2a"
    ax.major_label_standoff = 3
p.xgrid.visible = False
p.ygrid.grid_line_color = "#f4f4f4"

# bold year labels at their tick positions
for pos, txt in zip(x_tick_pos, x_tick_text):
    if txt in year_labels:
        p.add_layout(Label(x=pos, y=AXIS_P, x_units="data", y_units="data", y_offset=-7, text=txt,
                           text_align="center", text_baseline="top", text_font=FONT, text_font_size="8px",
                           text_font_style="bold", text_color="#222222"))

# last price tag at the last close
p.add_layout(Label(x=AXIS_X, y=last_price, x_units="data", y_units="data", x_offset=-15, text="SPY · %.2f" % last_price,
                   text_align="left", text_baseline="middle", text_font=FONT, text_font_size="7.5px",
                   text_color="white", background_fill_color="#ff1a1a", background_fill_alpha=1.0, padding=1))

open("out.html", "w").write(file_html(p, INLINE))
